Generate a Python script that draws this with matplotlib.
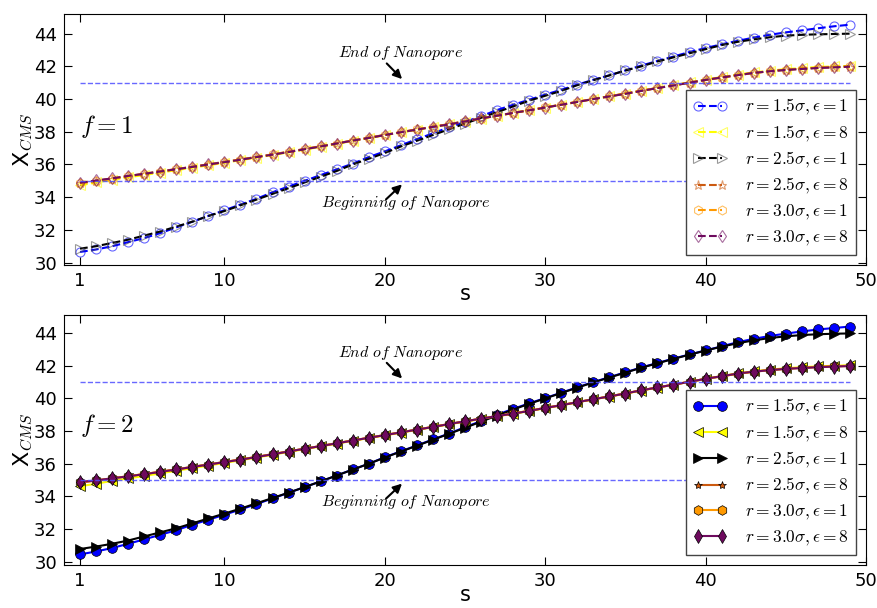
import matplotlib
matplotlib.use("Agg")
import matplotlib.pyplot as plt
from matplotlib.colors import to_rgba

plt.rcParams['mathtext.fontset'] = 'cm'
plt.rcParams['font.family'] = 'DejaVu Sans'

s = list(range(1, 50))
x_ticks = [1, 10, 20, 30, 40, 50]
y_ticks = [30, 32, 34, 36, 38, 40, 42, 44]
pore_begin = 35
pore_end = 41

labels = [r'$r=1.5\sigma, \epsilon=1$', r'$r=1.5\sigma, \epsilon=8$',
          r'$r=2.5\sigma, \epsilon=1$', r'$r=2.5\sigma, \epsilon=8$',
          r'$r=3.0\sigma, \epsilon=1$', r'$r=3.0\sigma, \epsilon=8$']

# f = 1
blue_t = [30.65, 30.80, 31.00, 31.25, 31.50, 31.80, 32.15, 32.50, 32.85, 33.20,
          33.55, 33.90, 34.30, 34.65, 35.00, 35.35, 35.70, 36.05, 36.45, 36.80,
          37.17, 37.55, 37.90, 38.28, 38.60, 38.95, 39.33, 39.65, 39.96, 40.27,
          40.57, 40.88, 41.18, 41.45, 41.75, 42.05, 42.33, 42.60, 42.88, 43.12,
          43.35, 43.56, 43.76, 43.93, 44.08, 44.20, 44.33, 44.45, 44.55]
yellow_t = [34.72, 34.90, 35.06, 35.21, 35.36, 35.50, 35.65, 35.80, 35.95, 36.10,
            36.26, 36.42, 36.58, 36.74, 36.91, 37.08, 37.26, 37.44, 37.61, 37.79,
            37.96, 38.12, 38.29, 38.45, 38.62, 38.80, 38.97, 39.14, 39.31, 39.48,
            39.65, 39.82, 40.00, 40.16, 40.33, 40.51, 40.68, 40.85, 41.02, 41.19,
            41.35, 41.50, 41.63, 41.74, 41.83, 41.90, 41.96, 42.00, 42.03]
black_t = [30.85, 31.00, 31.20, 31.40, 31.65, 31.90, 32.20, 32.50, 32.85, 33.15,
           33.50, 33.85, 34.20, 34.55, 34.90, 35.25, 35.60, 36.00, 36.35, 36.70,
           37.10, 37.45, 37.80, 38.15, 38.50, 38.85, 39.20, 39.55, 39.90, 40.20,
           40.50, 40.85, 41.15, 41.45, 41.75, 42.00, 42.30, 42.55, 42.80, 43.05,
           43.30, 43.50, 43.65, 43.78, 43.88, 43.93, 43.96, 43.98, 44.00]
brown_t = [34.86, 35.00, 35.14, 35.29, 35.43, 35.58, 35.72, 35.86, 36.01, 36.16,
           36.31, 36.46, 36.62, 36.78, 36.95, 37.12, 37.29, 37.47, 37.64, 37.81,
           37.98, 38.15, 38.31, 38.47, 38.64, 38.82, 38.99, 39.16, 39.32, 39.49,
           39.66, 39.83, 40.00, 40.17, 40.34, 40.51, 40.68, 40.84, 41.01, 41.17,
           41.33, 41.47, 41.60, 41.71, 41.79, 41.86, 41.91, 41.95, 41.99]
orange_t = [34.84, 34.99, 35.13, 35.28, 35.42, 35.56, 35.70, 35.85, 35.99, 36.14,
            36.30, 36.45, 36.61, 36.77, 36.94, 37.11, 37.28, 37.46, 37.63, 37.80,
            37.97, 38.14, 38.30, 38.46, 38.64, 38.81, 38.98, 39.15, 39.32, 39.49,
            39.66, 39.83, 40.01, 40.17, 40.34, 40.51, 40.68, 40.84, 41.00, 41.16,
            41.31, 41.46, 41.59, 41.70, 41.79, 41.86, 41.92, 41.96, 42.00]
purple_t = [34.88, 35.02, 35.15, 35.30, 35.43, 35.57, 35.71, 35.85, 36.00, 36.14,
            36.29, 36.45, 36.60, 36.76, 36.93, 37.10, 37.28, 37.46, 37.62, 37.80,
            37.97, 38.13, 38.30, 38.45, 38.63, 38.82, 38.98, 39.15, 39.31, 39.48,
            39.65, 39.82, 40.00, 40.16, 40.32, 40.50, 40.67, 40.83, 41.00, 41.17,
            41.32, 41.46, 41.60, 41.70, 41.78, 41.84, 41.90, 41.94, 41.98]

# f = 2
blue_b = [30.45, 30.63, 30.84, 31.10, 31.37, 31.65, 31.93, 32.27, 32.57, 32.88,
          33.20, 33.53, 33.88, 34.22, 34.57, 34.92, 35.28, 35.65, 36.00, 36.40,
          36.76, 37.12, 37.49, 37.85, 38.24, 38.61, 39.00, 39.36, 39.70, 40.02,
          40.35, 40.68, 41.00, 41.30, 41.60, 41.90, 42.17, 42.44, 42.69, 42.94,
          43.19, 43.44, 43.65, 43.82, 43.97, 44.10, 44.22, 44.31, 44.40]
yellow_b = [34.62, 34.78, 34.95, 35.10, 35.25, 35.41, 35.57, 35.73, 35.89, 36.05,
            36.21, 36.38, 36.55, 36.72, 36.89, 37.06, 37.23, 37.40, 37.57, 37.73,
            37.90, 38.07, 38.24, 38.41, 38.58, 38.74, 38.90, 39.06, 39.22, 39.40,
            39.57, 39.76, 39.94, 40.11, 40.29, 40.48, 40.66, 40.84, 41.02, 41.20,
            41.37, 41.53, 41.66, 41.76, 41.85, 41.91, 41.96, 42.00, 42.03]
black_b = [30.78, 30.93, 31.10, 31.30, 31.55, 31.80, 32.05, 32.35, 32.65, 32.95,
           33.25, 33.58, 33.90, 34.23, 34.57, 34.92, 35.28, 35.64, 36.00, 36.38,
           36.75, 37.10, 37.47, 37.83, 38.20, 38.58, 38.95, 39.32, 39.67, 40.00,
           40.33, 40.66, 40.98, 41.28, 41.58, 41.88, 42.15, 42.42, 42.68, 42.93,
           43.17, 43.38, 43.55, 43.70, 43.80, 43.88, 43.93, 43.96, 43.98]
brown_b = [34.85, 34.97, 35.10, 35.23, 35.37, 35.51, 35.66, 35.81, 35.96, 36.11,
           36.26, 36.42, 36.59, 36.76, 36.92, 37.09, 37.26, 37.43, 37.59, 37.76,
           37.93, 38.09, 38.26, 38.43, 38.60, 38.76, 38.92, 39.08, 39.24, 39.42,
           39.59, 39.77, 39.95, 40.13, 40.31, 40.50, 40.67, 40.85, 41.02, 41.20,
           41.36, 41.51, 41.64, 41.74, 41.82, 41.88, 41.93, 41.97, 42.00]
orange_b = [34.86, 34.98, 35.11, 35.24, 35.37, 35.51, 35.65, 35.80, 35.95, 36.10,
            36.26, 36.42, 36.58, 36.75, 36.92, 37.08, 37.25, 37.42, 37.59, 37.76,
            37.92, 38.09, 38.26, 38.43, 38.60, 38.76, 38.92, 39.08, 39.24, 39.42,
            39.59, 39.77, 39.95, 40.12, 40.30, 40.50, 40.67, 40.84, 41.02, 41.19,
            41.35, 41.51, 41.63, 41.73, 41.81, 41.87, 41.92, 41.96, 41.99]
purple_b = [34.88, 34.98, 35.11, 35.23, 35.36, 35.50, 35.65, 35.80, 35.95, 36.10,
            36.25, 36.41, 36.58, 36.75, 36.92, 37.08, 37.25, 37.42, 37.59, 37.75,
            37.92, 38.09, 38.25, 38.43, 38.60, 38.76, 38.92, 39.07, 39.23, 39.42,
            39.58, 39.77, 39.95, 40.12, 40.30, 40.50, 40.67, 40.84, 41.02, 41.20,
            41.36, 41.52, 41.64, 41.73, 41.81, 41.86, 41.91, 41.95, 41.98]

colors = ['#0000ff', '#ffff00', '#000000', '#cc5a10', '#ff9900', '#6e0a5e']
markers = ['o', '<', '>', '*', 'h', 'd']


def panel(ax, series, filled, tag, ylim, xpad):
    for y, c, m, lab in zip(series, colors, markers, labels):
        if filled:
            ax.plot(s, y, '-', color=c, lw=1.5, marker=m, ms=7 if m != '*' else 6,
                    mfc=c, mec='k', mew=0.5, label=lab)
        else:
            ax.plot(s, y, '--', color=c, lw=1.5, marker=m, ms=6.5,
                    mfc='none', mec=to_rgba(c if c != '#000000' else '#555555', 0.6),
                    mew=0.8, label=lab)
    ax.hlines([pore_begin, pore_end], s[0], s[-1], colors=[(0.3, 0.3, 1.0, 0.85)],
              linestyles='--', lw=1.0)
    ax.text(21, 42.8, r'$End\ of\ Nanopore$', ha='center', va='center', fontsize=11.5)
    ax.annotate('', xy=(21.2, 41.1), xytext=(20.0, 42.3),
                arrowprops=dict(arrowstyle='-|>', color='k', lw=1.5, mutation_scale=13))
    ax.text(21.3, 33.64, r'$Beginning\ of\ Nanopore$', ha='center', va='center', fontsize=11.5)
    ax.annotate('', xy=(21.2, 34.9), xytext=(19.95, 33.75),
                arrowprops=dict(arrowstyle='-|>', color='k', lw=1.5, mutation_scale=13))
    ax.text(1.0, 38.35, tag, ha='left', va='center', fontsize=18)
    ax.set_xlim(0, 50)
    ax.set_ylim(*ylim)
    ax.set_xticks(x_ticks)
    ax.set_yticks(y_ticks)
    ax.tick_params(direction='in', top=True, right=True, length=6, labelsize=13, pad=5)
    ax.set_xlabel('s', fontsize=15, labelpad=xpad)
    ax.set_ylabel(r'X$_{CMS}$', fontsize=16, labelpad=-1)
    leg = ax.legend(loc='lower right', numpoints=2, fontsize=12.5, fancybox=False,
                    labelspacing=0.36, handlelength=2.0, handletextpad=1.0,
                    borderaxespad=0.6, framealpha=1)
    leg.get_frame().set_edgecolor('#444444')


fig = plt.figure(figsize=(8.78, 6.08), dpi=100)
ax1 = fig.add_axes([0.0729, 0.5641, 0.9134, 0.4128])
ax2 = fig.add_axes([0.0729, 0.0707, 0.9134, 0.411])

panel(ax1, [blue_t, yellow_t, black_t, brown_t, orange_t, purple_t], False,
      r'$f=1$', (29.85, 45.2), -4)
panel(ax2, [blue_b, yellow_b, black_b, brown_b, orange_b, purple_b], True,
      r'$f=2$', (29.8, 45.1), -3.5)

fig.savefig('out.png', dpi=100)
